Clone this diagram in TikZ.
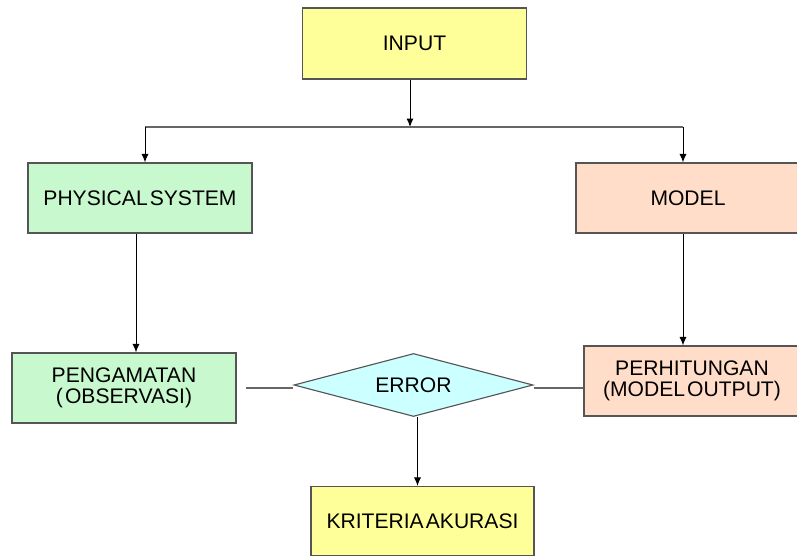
\documentclass[tikz,border=0pt]{standalone}
\usepackage{fontspec}
\setmainfont[WordSpace=0.35]{Liberation Sans}
\usetikzlibrary{shapes.geometric,arrows.meta}
\definecolor{boxyellow}{HTML}{FFFF99}
\definecolor{boxgreen}{HTML}{C8F8CE}
\definecolor{boxpeach}{HTML}{FFDDC8}
\definecolor{boxcyan}{HTML}{CCFFFF}
\definecolor{edge}{HTML}{555555}
\begin{document}
\begin{tikzpicture}[x=0.025cm,y=-0.025cm,
		box/.style={draw=edge,line width=0.8pt,minimum width=5.6cm,minimum height=1.75cm,align=center,font=\fontsize{15}{14.5}\selectfont},
		arr/.style={-{Latex[length=6pt,width=5pt]},line width=0.7pt},
		link/.style={draw=edge!90,line width=0.8pt}]
	\useasboundingbox (0,0) rectangle (797,556);
	\node[box,fill=boxyellow,minimum height=1.775cm] (input) at (414.5,43.5) {INPUT};
	\node[box,fill=boxgreen] (phys) at (140,198) {PHYSICAL SYSTEM};
	\node[box,fill=boxpeach,minimum width=5.6cm] (model) at (688,198) {MODEL};
	\node[box,fill=boxgreen] (obs) at (124,388) {PENGAMATAN\\( OBSERVASI)};
	\node[box,fill=boxpeach,minimum width=5.4cm] (calc) at (692,381) {PERHITUNGAN\\(MODEL OUTPUT)};
	\node[diamond,draw=edge,line width=0.8pt,fill=boxcyan,aspect=3.8,inner sep=0pt,minimum width=5.975cm,minimum height=1.575cm,font=\fontsize{15}{15}\selectfont] (error) at (413.5,385) {ERROR};
	\node[box,fill=boxyellow,minimum width=5.575cm,minimum height=1.725cm] (krit) at (422.5,521) {KRITERIA AKURASI};
	\coordinate (split) at (410,127);
	\coordinate (splitl) at (145,127);
	\coordinate (splitr) at (683,127);
	\draw[arr] (split |- input.south) -- (split);
	\draw[link] (splitl) -- (splitr);
	\draw[arr] (splitl) -- (splitl |- phys.north);
	\draw[arr] (splitr) -- (splitr |- model.north);
	\draw[arr] ([xshift=-0.1cm]phys.south) -- ([xshift=-0.1cm]phys.south |- obs.north);
	\draw[arr] (splitr |- model.south) -- (splitr |- calc.north);
	\draw[link] ([xshift=0.225cm]obs.east) -- (obs.east -| error.west);
	\draw[link] (obs.east -| error.east) -- (obs.east -| calc.west);
	\draw[arr] ([xshift=0.1cm]error.south) -- ([xshift=0.1cm]error.south |- krit.north);
\end{tikzpicture}
\end{document}
